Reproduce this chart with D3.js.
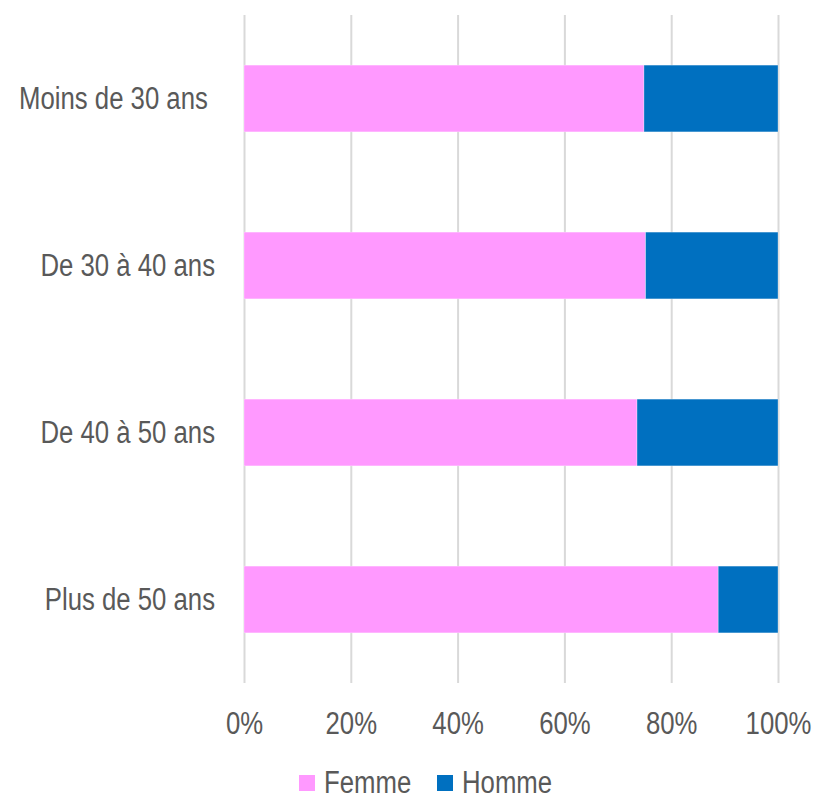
<!DOCTYPE html>
<html>
<head>
<meta charset="utf-8">
<script src="https://cdn.jsdelivr.net/npm/d3@7"></script>
<style>
  html, body { margin: 0; padding: 0; background: #fff; }
  svg text { font-family: "Liberation Sans", Arial, sans-serif; fill: #595959; white-space: pre; }
</style>
</head>
<body>
<svg id="chart" width="816" height="794"></svg>
<script>
const categories = ["Moins de 30 ans ", "De 30 à 40 ans", "De 40 à 50 ans", "Plus de 50 ans"];
const seriesNames = ["Femme", "Homme"];
const femme = [74.9, 75.2, 73.6, 88.8];
const homme = [25.1, 24.8, 26.4, 11.2];
const colors = ["#FF99FF", "#0070C0"];
const tickValues = [0, 20, 40, 60, 80, 100];

const svg = d3.select("#chart");
const margin = { left: 244, right: 38, top: 15, bottom: 111 };
const W = 816, H = 794;
const condense = 0.83;

const x = d3.scaleLinear().domain([0, 100]).range([margin.left, W - margin.right]);
const y = d3.scaleBand().domain(categories).range([margin.top, H - margin.bottom])
  .paddingInner(0.6).paddingOuter(0.3);

// gridlines + x tick labels
svg.append("g")
  .attr("transform", `translate(0,${H - margin.bottom})`)
  .call(d3.axisBottom(x).tickValues(tickValues).tickSize(-(H - margin.bottom - margin.top)).tickFormat(d => d + "%"))
  .call(g => g.select(".domain").remove())
  .call(g => g.selectAll(".tick line").attr("stroke", "#D9D9D9").attr("stroke-width", 2))
  .call(g => g.selectAll(".tick text").attr("dy", 0).attr("y", 51)
      .style("font-size", "31px").attr("fill", "#595959"));

// stacked bars
const rows = categories.map((c, i) => ({ cat: c, Femme: femme[i], Homme: homme[i] }));
const stack = d3.stack().keys(seriesNames)(rows);

svg.append("g").selectAll("g")
  .data(stack)
  .join("g")
  .attr("fill", (d, i) => colors[i])
  .selectAll("rect")
  .data(d => d)
  .join("rect")
  .attr("x", d => x(d[0]))
  .attr("width", d => x(d[1]) - x(d[0]))
  .attr("y", d => y(d.data.cat))
  .attr("height", y.bandwidth())
  .attr("stroke", "#ffffff")
  .attr("stroke-width", 0.6)
  .attr("stroke-opacity", 0.5);

// category labels
svg.append("g")
  .call(d3.axisLeft(y).tickSize(0).tickPadding(29))
  .attr("transform", `translate(${margin.left},0)`)
  .call(g => g.select(".domain").remove())
  .call(g => g.selectAll(".tick text").style("font-size", "31px").attr("fill", "#595959").attr("dy", "0.35em"));

// legend
const legendItems = [
  { name: seriesNames[0], color: colors[0], x: 299 },
  { name: seriesNames[1], color: colors[1], x: 437 }
];
const lg = svg.append("g");
legendItems.forEach(it => {
  lg.append("rect").attr("x", it.x).attr("y", 775).attr("width", 16).attr("height", 16).attr("fill", it.color);
  lg.append("text").attr("x", it.x + 25).attr("y", 793).text(it.name).style("font-size", "31px");
});

// condense all text horizontally (narrow font look)
svg.selectAll("text").each(function() {
  const len = this.getComputedTextLength();
  d3.select(this).attr("textLength", len * condense).attr("lengthAdjust", "spacingAndGlyphs");
});
</script>
</body>
</html>
